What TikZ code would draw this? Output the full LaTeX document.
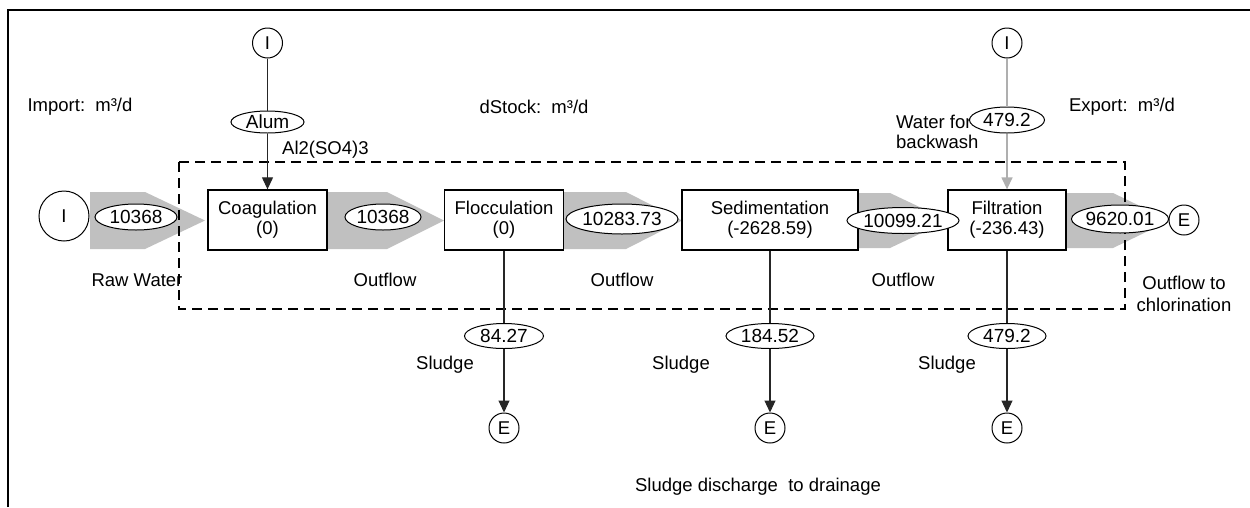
\documentclass[tikz,border=0pt]{standalone}
\usepackage{fontspec}
\setmainfont{Liberation Sans}
\usetikzlibrary{arrows.meta,shapes.geometric}
\definecolor{flowgray}{RGB}{192,192,192}
\definecolor{linegray}{RGB}{175,175,175}
\tikzset{
  proc/.style={draw, line width=1.3pt, fill=white, minimum height=60pt, align=center, inner sep=0pt},
  flowell/.style={ellipse, draw, line width=1pt, fill=white, inner sep=0pt, font=\fontsize{19}{20}\selectfont},
  term/.style={circle, draw, line width=1pt, fill=white, inner sep=0pt, minimum size=30pt},
  conn/.style={draw=black!85, line width=1.1pt},
  tip/.style={-{Triangle[length=12pt,width=11pt]}},
  lbl/.style={inner sep=0pt, align=center},
  band/.style={fill=flowgray, draw=none}
}
\begin{document}
\begin{tikzpicture}[x=1pt,y=-1pt,font=\fontsize{18.5}{20}\selectfont]
\useasboundingbox (0,0) rectangle (1250,507);
% outer frame (top and left)
\draw[line width=2pt] (8,507) -- (8,10) -- (1250,10);

% gray flow bands
\fill[band] (90,192) -- (145,192) -- (205,220.5) -- (145,249) -- (90,249) -- cycle;
\fill[band] (327,192) -- (387,192) -- (444,220.5) -- (387,249) -- (327,249) -- cycle;
\fill[band] (563,192) -- (626,192) -- (682,220.5) -- (626,249) -- (563,249) -- cycle;
\fill[band] (858,193) -- (890,193) -- (948,220.5) -- (890,248) -- (858,248) -- cycle;
\fill[band] (1066,193) -- (1113,193) -- (1170,220.5) -- (1113,248) -- (1066,248) -- cycle;

% system boundary
\draw[dashed, dash pattern=on 10pt off 6pt, line width=1.3pt] (179,162) rectangle (1125,309);

% labels
\node[lbl] (limp) at (80,107) {Import:\ \ m³/d};
\node[lbl] (ldst) at (534,107) {dStock:\ \ m³/d};
\node[lbl] (lexp) at (1122,107) {Export:\ \ m³/d};
\node[lbl, anchor=west] (lal) at (282,150) {Al2(SO4)3};
\node[lbl, anchor=west, align=left] (lbw) at (896,132) {Water for\\backwash};
\node[lbl] (lraw) at (137,280) {Raw Water};
\node[lbl] (lo1) at (385,280) {Outflow};
\node[lbl] (lo2) at (622,280) {Outflow};
\node[lbl] (lo3) at (903,280) {Outflow};
\node[lbl, font=\fontsize{18.5}{22}\selectfont] (lchl) at (1184,294) {Outflow to\\chlorination};
\node[lbl] (ls1) at (445,365) {Sludge};
\node[lbl] (ls2) at (681,365) {Sludge};
\node[lbl] (ls3) at (947,365) {Sludge};
\node[lbl] (ldis) at (758,487) {Sludge discharge\ \ to drainage};

% processes
\node[proc, minimum width=119pt] (coag) at (267.5,220) {Coagulation\\(0)};
\node[proc, minimum width=119pt] (floc) at (504,220) {Flocculation\\(0)};
\node[proc, minimum width=176pt] (sed) at (770,220) {Sedimentation\\(-2628.59)};
\node[proc, minimum width=118pt] (filt) at (1007,220) {Filtration\\(-236.43)};

% import / export terminals
\node[term, minimum size=50pt] (iraw) at (64,216) {I};
\node[term] (ialum) at (267.5,43) {I};
\node[term] (iwash) at (1007,43) {I};
\node[term] (eout) at (1184,220) {E};
\node[term] (es1) at (504,428) {E};
\node[term] (es2) at (770,428) {E};
\node[term] (es3) at (1007,428) {E};

% flow value ellipses
\node[flowell, minimum width=73pt, minimum height=22pt] (alum) at (267.5,122) {Alum};
\node[flowell, minimum width=75pt, minimum height=26pt] (wash) at (1007,120) {479.2};
\node[flowell, minimum width=82pt, minimum height=26pt] (f1) at (136,217) {10368};
\node[flowell, minimum width=76pt, minimum height=26pt] (f2) at (383,217) {10368};
\node[flowell, minimum width=112pt, minimum height=30pt] (f3) at (622,219) {10283.73};
\node[flowell, minimum width=90pt, minimum height=26pt] (f4) at (903,220.5) {10099.21};
\node[flowell, minimum width=97pt, minimum height=28pt] (f5) at (1120,219) {9620.01};
\node[flowell, minimum width=79pt, minimum height=25pt] (s1) at (504,336) {84.27};
\node[flowell, minimum width=88pt, minimum height=25pt] (s2) at (770,336) {184.52};
\node[flowell, minimum width=78pt, minimum height=25pt] (s3) at (1007,336) {479.2};

% connectors
\draw[conn] (ialum) -- (alum);
\draw[conn, tip] (alum) -- (coag);
\draw[draw=linegray, line width=1.3pt] (iwash) -- (wash);
\draw[draw=linegray, line width=1.3pt, -{Triangle[length=12pt,width=11pt]}] (wash) -- (filt);
\draw[conn] (floc) -- (s1);
\draw[conn, tip] (s1) -- (es1);
\draw[conn] (sed) -- (s2);
\draw[conn, tip] (s2) -- (es2);
\draw[conn] (filt) -- (s3);
\draw[conn, tip] (s3) -- (es3);
\end{tikzpicture}
\end{document}
